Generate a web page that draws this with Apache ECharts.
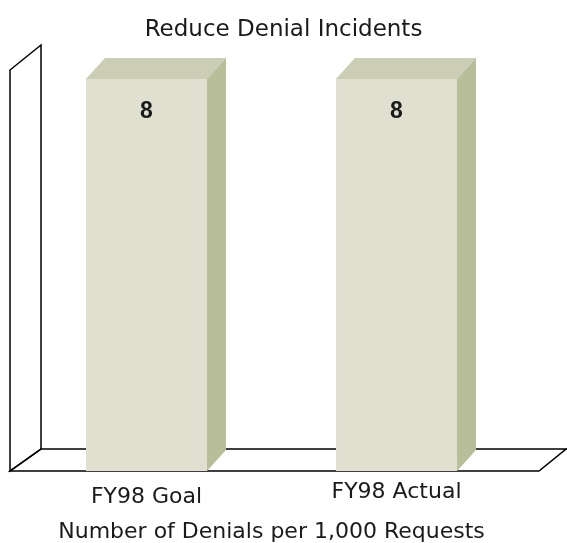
<!DOCTYPE html>
<html>
<head>
<meta charset="utf-8">
<title>Reduce Denial Incidents</title>
<script src="https://cdn.jsdelivr.net/npm/echarts@6/dist/echarts.min.js"></script>
<style>
  html, body { margin: 0; padding: 0; background: #ffffff; }
  #chart { width: 567px; height: 543px; }
</style>
</head>
<body>
<div id="chart"></div>
<script>
// Chart content
const titleText = 'Reduce Denial Incidents';
const categories = ['FY98 Goal', 'FY98 Actual'];
const denials = [8, 8];
const axisTitle = 'Number of Denials per 1,000 Requests';

// Layout of the plotting area and the pseudo-3D frame
const GRID = { left: 21.5, top: 79, width: 500, bottom: 72 };
const BAR_RATIO = 0.484;          // bar width as a share of a category band
const BOX_DX = 19, BOX_DY = 21;   // depth offset of each box
const WALL_DX = 31, WALL_DY = 22; // depth offset of floor / side wall
const FLOOR_LEFT = 10, FLOOR_RIGHT = 539, WALL_TOP = 70;

const FACE = '#dfe0d0', TOP = '#cbcdb5', SIDE = '#b8be9a';

const chart = echarts.init(document.getElementById('chart'), null, { renderer: 'canvas' });

function renderBox(params, api) {
  const cat = api.value(0);
  const val = api.value(1);
  const top = api.coord([cat, val]);
  const base = api.coord([cat, 0]);
  const bw = api.size([1, 0])[0] * BAR_RATIO;
  const x0 = top[0] - bw / 2, x1 = top[0] + bw / 2;
  const yt = top[1], yb = base[1];
  return {
    type: 'group',
    children: [
      { type: 'polygon', shape: { points: [[x0, yt], [x0 + BOX_DX, yt - BOX_DY], [x1 + BOX_DX, yt - BOX_DY], [x1, yt]] },
        style: { fill: TOP } },
      { type: 'polygon', shape: { points: [[x1, yt], [x1 + BOX_DX, yt - BOX_DY], [x1 + BOX_DX, yb - BOX_DY], [x1, yb]] },
        style: { fill: SIDE } },
      { type: 'rect', shape: { x: x0, y: yt, width: bw, height: yb - yt },
        style: { fill: FACE } },
      { type: 'text', x: top[0], y: yt + 33,
        style: { text: String(val), fill: '#1a1a1a', font: 'bold 23px "Liberation Sans", Arial, sans-serif',
                 align: 'center', verticalAlign: 'middle' } }
    ]
  };
}

// Floor and back wall outline, placed from the grid's lower edge
const floorY = 543 - GRID.bottom;
const frameStyle = { stroke: '#000', lineWidth: 1.5, fill: null };
const frame = [
  { type: 'polygon', z: 0, silent: true,
    shape: { points: [[FLOOR_LEFT, floorY], [FLOOR_RIGHT, floorY],
                      [FLOOR_RIGHT + WALL_DX - 4, floorY - WALL_DY], [FLOOR_LEFT + WALL_DX, floorY - WALL_DY]] },
    style: frameStyle },
  { type: 'polyline', z: 0, silent: true,
    shape: { points: [[FLOOR_RIGHT + WALL_DX - 4, floorY - WALL_DY], [567, floorY - WALL_DY]] },
    style: frameStyle },
  { type: 'polygon', z: 0, silent: true,
    shape: { points: [[FLOOR_LEFT, floorY], [FLOOR_LEFT, WALL_TOP],
                      [FLOOR_LEFT + WALL_DX, WALL_TOP - 25], [FLOOR_LEFT + WALL_DX, floorY - WALL_DY]] },
    style: frameStyle }
];

chart.setOption({
  animation: false,
  backgroundColor: '#ffffff',
  title: {
    text: titleText, left: 'center', top: 14,
    textStyle: { fontFamily: '"DejaVu Sans", sans-serif', fontWeight: 'normal', fontSize: 23, color: '#1a1a1a' }
  },
  graphic: frame,
  grid: { left: GRID.left, top: GRID.top, width: GRID.width, bottom: GRID.bottom,
          containLabel: false, outerBoundsMode: 'none' },
  xAxis: {
    type: 'category',
    data: [
      { value: categories[0], textStyle: { lineHeight: 34 } },
      { value: categories[1], textStyle: { lineHeight: 24 } }
    ],
    axisLine: { show: false }, axisTick: { show: false },
    axisLabel: { margin: 9, verticalAlign: 'top', lineHeight: 24,
                 fontFamily: '"DejaVu Sans", sans-serif', fontSize: 22, color: '#1a1a1a' },
    name: axisTitle, nameLocation: 'middle', nameGap: 50,
    nameTextStyle: { fontFamily: '"DejaVu Sans", sans-serif', fontSize: 22, color: '#1a1a1a' }
  },
  yAxis: {
    type: 'value', min: 0, max: 8,
    show: false, splitLine: { show: false }
  },
  series: [{
    type: 'custom', z: 2,
    renderItem: renderBox,
    data: categories.map((c, i) => [i, denials[i]])
  }]
});
</script>
</body>
</html>
